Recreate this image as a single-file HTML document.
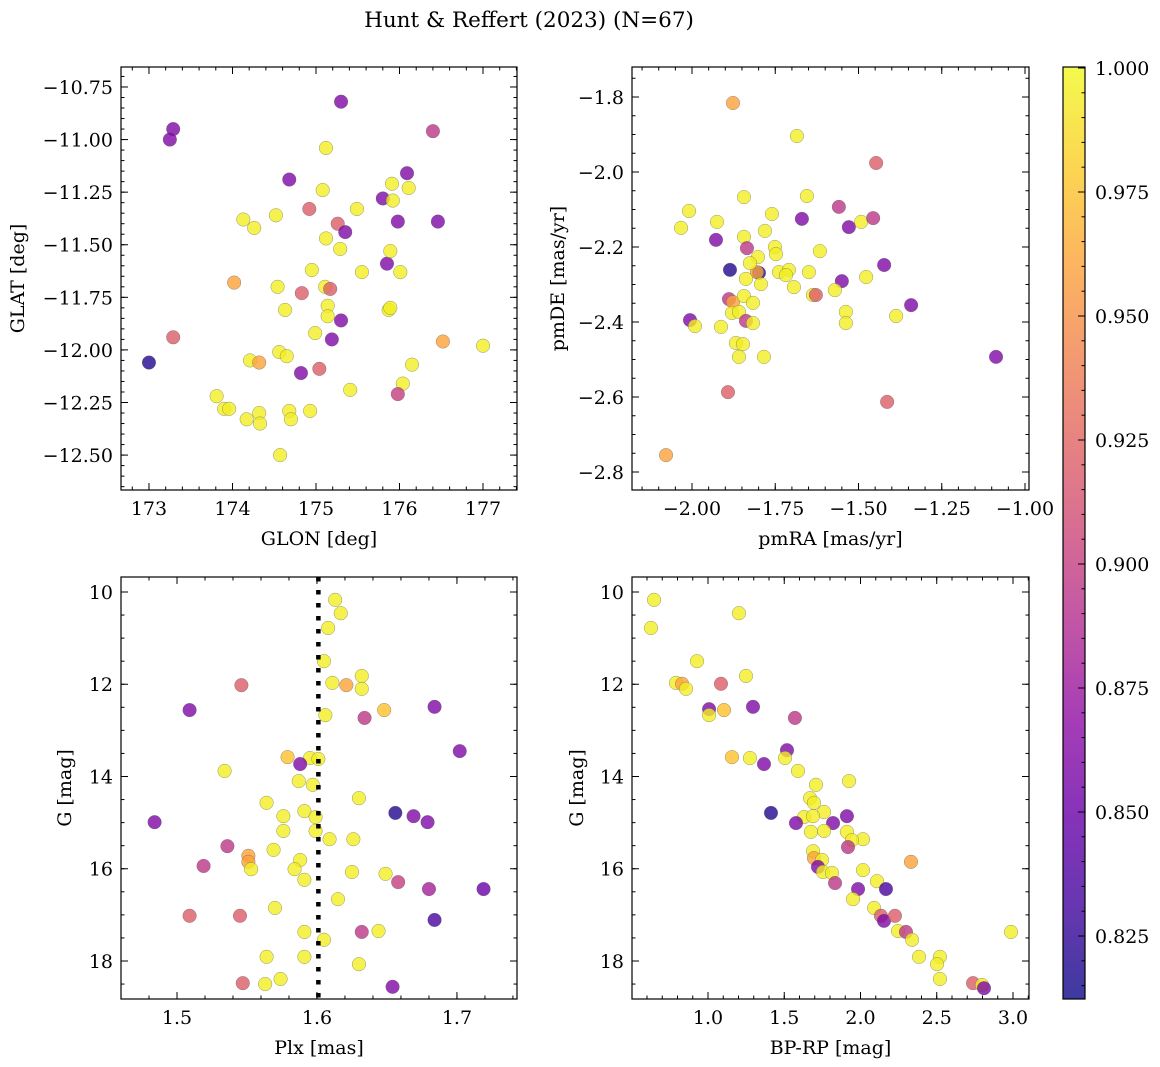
<!DOCTYPE html>
<html><head><meta charset="utf-8"><style>
html,body{margin:0;padding:0;background:#fff;}
svg{display:block;font-family:"DejaVu Serif","Liberation Serif",serif;}
</style></head><body>
<svg id="fig" width="1160" height="1067" viewBox="0 0 1160 1067" xmlns="http://www.w3.org/2000/svg">
<text x="529" y="27" text-anchor="middle" font-size="21.5">Hunt &amp; Reffert (2023) (N=67)</text>
</svg>
<script>
// ---- Panel 1: GLON / GLAT ----
const p1x=[173.00,173.29,173.25,173.29,174.02,174.13,174.26,174.21,174.32,173.81,173.90,173.96,174.17,174.32,174.33,174.52,174.54,174.57,174.56,174.63,174.65,174.68,174.68,174.70,174.83,174.82,174.92,174.93,174.95,174.99,175.04,175.08,175.11,175.12,175.12,175.14,175.14,175.17,175.19,175.26,175.30,175.29,175.30,175.35,175.41,175.49,175.55,175.80,175.85,175.89,175.87,175.89,175.91,175.92,175.98,176.01,176.04,175.98,176.09,176.11,176.15,176.40,176.46,176.52,177.00];
const p1y=[-12.06,-10.95,-11.00,-11.94,-11.68,-11.38,-11.42,-12.05,-12.06,-12.22,-12.28,-12.28,-12.33,-12.30,-12.35,-11.36,-11.70,-12.50,-12.01,-11.81,-12.03,-11.19,-12.29,-12.33,-11.73,-12.11,-11.33,-12.29,-11.62,-11.92,-12.09,-11.24,-11.70,-11.04,-11.47,-11.79,-11.84,-11.71,-11.95,-11.40,-10.82,-11.52,-11.86,-11.44,-12.19,-11.33,-11.63,-11.28,-11.59,-11.53,-11.81,-11.80,-11.21,-11.29,-11.39,-11.63,-12.16,-12.21,-11.16,-11.23,-12.07,-10.96,-11.39,-11.96,-11.98];
const p1c=[0.82,0.86,0.86,0.92,0.96,0.995,0.995,0.995,0.96,0.995,0.995,0.995,0.995,0.995,0.995,0.995,0.995,0.995,0.995,0.995,0.995,0.86,0.995,0.995,0.92,0.86,0.92,0.995,0.995,0.995,0.92,0.995,0.995,0.995,0.995,0.995,0.995,0.92,0.86,0.92,0.86,0.995,0.86,0.86,0.995,0.995,0.995,0.86,0.86,0.995,0.995,0.995,0.995,0.995,0.86,0.995,0.995,0.9,0.86,0.995,0.995,0.895,0.86,0.96,0.995];
// ---- Panel 2: pmRA / pmDE ----
const p2x=[-1.877,-1.685,-1.447,-2.009,-2.033,-1.925,-1.844,-1.655,-1.559,-1.670,-1.529,-1.492,-1.456,-1.928,-1.844,-1.781,-1.760,-1.835,-1.751,-1.748,-1.802,-1.616,-1.886,-1.799,-1.805,-1.826,-1.739,-1.709,-1.718,-1.649,-1.838,-1.793,-1.694,-1.550,-1.477,-1.423,-1.637,-1.628,-1.571,-1.889,-1.877,-1.844,-1.817,-1.880,-1.859,-1.342,-1.538,-1.538,-1.387,-2.006,-1.991,-1.913,-1.838,-1.817,-1.868,-1.847,-1.859,-1.784,-1.087,-1.892,-1.414,-2.078];
const p2y=[-1.816,-1.904,-1.976,-2.104,-2.149,-2.133,-2.067,-2.064,-2.093,-2.125,-2.147,-2.133,-2.123,-2.181,-2.173,-2.157,-2.112,-2.203,-2.200,-2.219,-2.227,-2.211,-2.261,-2.269,-2.267,-2.243,-2.267,-2.261,-2.275,-2.267,-2.285,-2.299,-2.307,-2.291,-2.280,-2.248,-2.328,-2.328,-2.315,-2.339,-2.347,-2.331,-2.349,-2.376,-2.373,-2.355,-2.373,-2.403,-2.384,-2.395,-2.411,-2.413,-2.397,-2.403,-2.456,-2.459,-2.493,-2.493,-2.493,-2.587,-2.613,-2.755];
const p2c=[0.96,0.995,0.92,0.995,0.995,0.995,0.995,0.995,0.895,0.86,0.86,0.995,0.895,0.86,0.995,0.995,0.995,0.895,0.995,0.995,0.995,0.995,0.82,0.82,0.96,0.995,0.995,0.995,0.995,0.995,0.995,0.995,0.995,0.86,0.995,0.86,0.995,0.92,0.995,0.895,0.96,0.995,0.995,0.995,0.995,0.86,0.995,0.995,0.995,0.86,0.995,0.995,0.895,0.995,0.995,0.995,0.995,0.995,0.86,0.92,0.92,0.96];
// ---- Panel 3: Plx / G ----
const p3x=[1.613,1.617,1.608,1.605,1.632,1.611,1.621,1.632,1.546,1.509,1.606,1.634,1.648,1.684,1.702,1.579,1.595,1.601,1.588,1.534,1.587,1.597,1.630,1.564,1.591,1.576,1.599,1.656,1.669,1.679,1.484,1.576,1.599,1.609,1.626,1.536,1.569,1.551,1.551,1.553,1.588,1.519,1.584,1.625,1.649,1.658,1.680,1.719,1.591,1.615,1.570,1.509,1.545,1.684,1.591,1.605,1.632,1.644,1.564,1.591,1.630,1.574,1.563,1.547,1.654];
const p3y=[10.17,10.46,10.78,11.50,11.82,11.97,12.02,12.10,12.02,12.56,12.67,12.73,12.56,12.49,13.45,13.58,13.60,13.62,13.73,13.88,14.10,14.18,14.47,14.57,14.75,14.86,14.88,14.79,14.86,14.99,14.99,15.18,15.18,15.36,15.36,15.51,15.59,15.72,15.85,16.01,15.81,15.94,16.01,16.07,16.11,16.29,16.44,16.44,16.24,16.66,16.85,17.02,17.02,17.11,17.37,17.54,17.37,17.35,17.91,17.91,18.07,18.39,18.50,18.48,18.56];
const p3c=[0.995,0.995,0.995,0.995,0.995,0.995,0.96,0.995,0.92,0.86,0.995,0.895,0.975,0.86,0.86,0.975,0.995,0.995,0.86,0.995,0.995,0.995,0.995,0.995,0.995,0.995,0.995,0.82,0.86,0.86,0.86,0.995,0.995,0.995,0.995,0.895,0.995,0.96,0.96,0.995,0.995,0.895,0.995,0.995,0.995,0.9,0.88,0.85,0.995,0.995,0.995,0.92,0.92,0.835,0.995,0.995,0.895,0.995,0.995,0.995,0.995,0.995,0.995,0.92,0.86];
const vlinePlx=[1.601];
// ---- Panel 4: BP-RP / G ----
const p4x=[0.646,0.626,1.203,0.928,0.790,0.830,0.856,1.085,1.249,1.007,1.007,1.105,1.295,1.570,1.157,1.275,1.367,1.518,1.505,1.590,1.708,1.925,1.413,1.669,1.695,1.761,1.630,1.689,1.577,1.820,1.911,1.675,1.761,1.911,2.016,1.944,1.918,1.689,1.695,1.748,1.721,1.754,1.813,1.833,2.016,2.331,2.108,2.167,1.984,1.951,2.089,2.134,2.154,2.226,2.246,2.298,2.338,2.987,2.384,2.521,2.502,2.521,2.738,2.797,2.810];
const p4y=[10.17,10.78,10.46,11.50,11.97,11.99,12.10,11.99,11.82,12.54,12.67,12.56,12.49,12.73,13.58,13.60,13.73,13.43,13.60,13.88,14.18,14.10,14.79,14.47,14.57,14.77,14.88,14.86,15.01,15.01,14.86,15.20,15.18,15.20,15.36,15.38,15.53,15.62,15.77,15.81,15.96,16.07,16.09,16.31,16.03,15.85,16.27,16.44,16.44,16.66,16.85,17.02,17.13,17.02,17.35,17.37,17.54,17.37,17.91,17.91,18.07,18.39,18.48,18.52,18.59];
const p4c=[0.995,0.995,0.995,0.995,0.995,0.96,0.995,0.92,0.995,0.86,0.995,0.975,0.86,0.895,0.975,0.995,0.86,0.86,0.995,0.995,0.995,0.995,0.82,0.995,0.995,0.995,0.995,0.995,0.86,0.86,0.86,0.995,0.995,0.995,0.995,0.995,0.895,0.995,0.96,0.995,0.86,0.995,0.995,0.895,0.995,0.96,0.995,0.835,0.86,0.995,0.995,0.92,0.86,0.92,0.995,0.895,0.995,0.995,0.995,0.995,0.995,0.995,0.92,0.995,0.86];
// ---- Tick arrays ----
const t1x=[173,174,175,176,177], t1xl=["173","174","175","176","177"];
const t1y=[-10.75,-11.0,-11.25,-11.5,-11.75,-12.0,-12.25,-12.5], t1yl=["\u221210.75","\u221211.00","\u221211.25","\u221211.50","\u221211.75","\u221212.00","\u221212.25","\u221212.50"];
const t2x=[-2.0,-1.75,-1.5,-1.25,-1.0], t2xl=["\u22122.00","\u22121.75","\u22121.50","\u22121.25","\u22121.00"];
const t2y=[-1.8,-2.0,-2.2,-2.4,-2.6,-2.8], t2yl=["\u22121.8","\u22122.0","\u22122.2","\u22122.4","\u22122.6","\u22122.8"];
const t3x=[1.5,1.6,1.7], t3xl=["1.5","1.6","1.7"];
const tGy=[10,12,14,16,18], tGyl=["10","12","14","16","18"];
const t4x=[1.0,1.5,2.0,2.5,3.0], t4xl=["1.0","1.5","2.0","2.5","3.0"];
const tcb=[0.825,0.85,0.875,0.9,0.925,0.95,0.975,1.0], tcbl=["0.825","0.850","0.875","0.900","0.925","0.950","0.975","1.000"];
const cbMin=0.8123, cbMax=1.0002;
const FS=19;

const NS="http://www.w3.org/2000/svg";
const svg=document.getElementById('fig');
function mk(tag,attrs,parent){const e=document.createElementNS(NS,tag);for(const k in attrs)e.setAttribute(k,attrs[k]);(parent||svg).appendChild(e);return e;}
const stops=[[0,13,8,135],[0.1,65,4,157],[0.2,106,0,168],[0.3,143,13,164],[0.4,177,42,144],[0.5,204,71,120],[0.6,225,100,98],[0.7,242,132,75],[0.8,252,166,54],[0.9,252,206,37],[1.0,240,249,33]];
function plasma(t){t=Math.max(0,Math.min(1,t));for(let i=1;i<stops.length;i++){if(t<=stops[i][0]){const a=stops[i-1],b=stops[i],f=(t-a[0])/(b[0]-a[0]);return 'rgb('+[1,2,3].map(j=>Math.round(a[j]+f*(b[j]-a[j]))).join(',')+')';}}return 'rgb(240,249,33)';}
function pcol(p){return plasma((p-cbMin)/(cbMax-cbMin));}

function minorTicks(lo,hi,step){const r=[];const s=Math.ceil(lo/step-1e-9);for(let k=s;k*step<=hi+1e-9;k++)r.push(k*step);return r;}

function panel(o){
  const g=mk('g',{});
  
  
  const sx=v=>o.L+(v-o.x0)/(o.x1-o.x0)*(o.R-o.L);
  const sy=v=>o.T+(v-o.y0)/(o.y1-o.y0)*(o.B-o.T);
  const pg=mk('g',{},g);
  
  
  for(let i=0;i<o.xs.length;i++){
    const c=mk('circle',{cx:sx(o.xs[i]),cy:sy(o.ys[i]),r:6.8,fill:pcol(o.cs[i]),'fill-opacity':0.8,stroke:'#555','stroke-opacity':0.6,'stroke-width':0.5},pg);
    
    
  }
  if(o.vline){const l=mk('line',{x1:sx(o.vline[0]),x2:sx(o.vline[0]),y1:o.T,y2:o.B,stroke:'#000','stroke-width':4.5,'stroke-dasharray':'4.5 8.5'},g);
    
    }
  const f=mk('rect',{x:o.L,y:o.T,width:o.R-o.L,height:o.B-o.T,fill:'none',stroke:'#000','stroke-width':1.2},g);
  
  
  const tk=mk('g',{stroke:'#000','stroke-width':1},g);
  
  
  const xlo=Math.min(o.x0,o.x1),xhi=Math.max(o.x0,o.x1),ylo=Math.min(o.y0,o.y1),yhi=Math.max(o.y0,o.y1);
  minorTicks(xlo,xhi,o.mx).forEach(v=>{const x=sx(v);mk('line',{x1:x,x2:x,y1:o.B,y2:o.B-3.5},tk);mk('line',{x1:x,x2:x,y1:o.T,y2:o.T+3.5},tk);});
  minorTicks(ylo,yhi,o.my).forEach(v=>{const y=sy(v);mk('line',{x1:o.L,x2:o.L+3.5,y1:y,y2:y},tk);mk('line',{x1:o.R,x2:o.R-3.5,y1:y,y2:y},tk);});
  o.tx.forEach((v,i)=>{const x=sx(v);mk('line',{x1:x,x2:x,y1:o.B,y2:o.B-7},tk);mk('line',{x1:x,x2:x,y1:o.T,y2:o.T+7},tk);
    const t=mk('text',{x:x,y:o.B+25,'text-anchor':'middle','font-size':FS},g);t.textContent=o.txl[i];
    
    });
  o.ty.forEach((v,i)=>{const y=sy(v);mk('line',{x1:o.L,x2:o.L+7,y1:y,y2:y},tk);mk('line',{x1:o.R,x2:o.R-7,y1:y,y2:y},tk);
    const t=mk('text',{x:o.L-8,y:y+7,'text-anchor':'end','font-size':FS},g);t.textContent=o.tyl[i];
    
    });
  const xl=mk('text',{x:(o.L+o.R)/2,y:o.B+55,'text-anchor':'middle','font-size':FS},g);xl.textContent=o.xlab;
  
  
  const yx=o.ylx,yy=(o.T+o.B)/2;
  const yl=mk('text',{x:yx,y:yy,'text-anchor':'middle','font-size':FS,transform:'rotate(-90 '+yx+' '+yy+')'},g);yl.textContent=o.ylab;
  
  
}

panel({name:'glon-glat-panel',L:121,R:517,T:67,B:490,x0:172.665,x1:177.407,y0:-10.655,y1:-12.666,xs:p1x,ys:p1y,cs:p1c,tx:t1x,txl:t1xl,ty:t1y,tyl:t1yl,mx:0.2,my:0.05,xlab:'GLON [deg]',ylab:'GLAT [deg]',ylx:24});
panel({name:'pm-panel',L:632,R:1029,T:67,B:490,x0:-2.1802,x1:-0.988,y0:-1.72,y1:-2.848,xs:p2x,ys:p2y,cs:p2c,tx:t2x,txl:t2xl,ty:t2y,tyl:t2yl,mx:0.05,my:0.05,xlab:'pmRA [mas/yr]',ylab:'pmDE [mas/yr]',ylx:564});
panel({name:'plx-g-panel',L:121,R:517,T:577,B:999,x0:1.46,x1:1.7429,y0:9.675,y1:18.824,xs:p3x,ys:p3y,cs:p3c,tx:t3x,txl:t3xl,ty:tGy,tyl:tGyl,mx:0.02,my:0.5,xlab:'Plx [mas]',ylab:'G [mag]',ylx:71,vline:vlinePlx});
panel({name:'cmd-panel',L:632,R:1029,T:577,B:999,x0:0.5016,x1:3.105,y0:9.675,y1:18.824,xs:p4x,ys:p4y,cs:p4c,tx:t4x,txl:t4xl,ty:tGy,tyl:tGyl,mx:0.1,my:0.5,xlab:'BP-RP [mag]',ylab:'G [mag]',ylx:583});

(function(){
  const L=1063,R=1085,T=67,B=999;
  const defs=mk('defs',{});
  const lg=mk('linearGradient',{id:'cbg',x1:0,y1:1,x2:0,y2:0},defs);
  stops.forEach(s=>mk('stop',{offset:s[0],'stop-color':'rgb('+s[1]+','+s[2]+','+s[3]+')'},lg));
  const g=mk('g',{});
  
  
  mk('rect',{x:L,y:T,width:R-L,height:B-T,fill:'url(#cbg)','fill-opacity':0.8},g);
  mk('rect',{x:L,y:T,width:R-L,height:B-T,fill:'none',stroke:'#000','stroke-width':1.2},g);
  const sy=v=>B-(v-cbMin)/(cbMax-cbMin)*(B-T);
  minorTicks(cbMin,cbMax,0.005).forEach(v=>{const y=sy(v);mk('line',{x1:R,x2:R-3.5,y1:y,y2:y,stroke:'#000'},g);});
  tcb.forEach((v,i)=>{const y=sy(v);mk('line',{x1:R,x2:R-7,y1:y,y2:y,stroke:'#000'},g);
    const t=mk('text',{x:R+10,y:y+7,'font-size':FS},g);t.textContent=tcbl[i];
    
    });
})();
</script>
</body></html>
